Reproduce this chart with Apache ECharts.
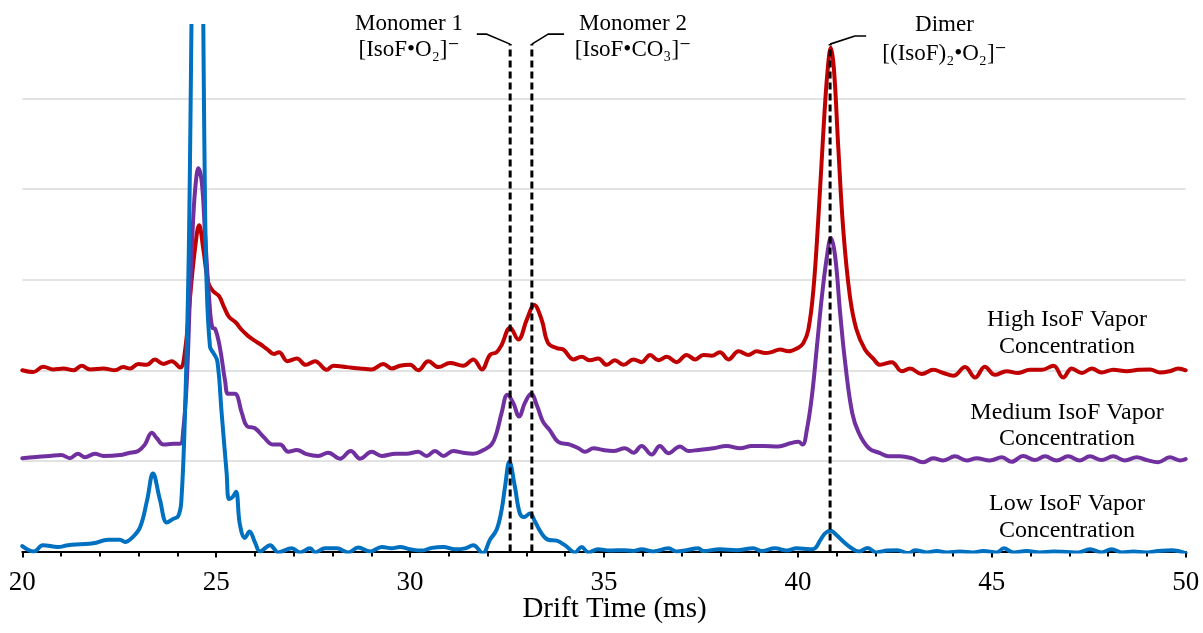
<!DOCTYPE html>
<html>
<head>
<meta charset="utf-8">
<script src="https://cdn.jsdelivr.net/npm/echarts@6/dist/echarts.min.js"></script>
<style>
  html, body { margin: 0; padding: 0; background: #fff; }
  #chart { width: 1203px; height: 633px; }
</style>
</head>
<body>
<div id="chart"></div>
<script>
// Ion mobility spectra of IsoF at three vapor concentrations.
// Each trace: [drift time (ms), signal relative to its own baseline]; traces are stacked by traceOffsets.
const highIsoF = [
  [20.0, 0.0], [20.28, -0.02], [20.54, 0.04], [20.80, 0.01], [21.06, 0.02], [21.32, 0.0], [21.53, 0.05],
  [21.75, 0.01], [22.09, 0.02], [22.39, 0.0], [22.60, 0.035], [22.78, 0.02], [22.99, 0.07], [23.21, 0.06],
  [23.42, 0.12], [23.64, 0.07], [23.85, 0.10], [24.07, 0.03], [24.20, 0.23], [24.32, 0.78], [24.45, 1.33],
  [24.56, 1.60], [24.67, 1.33], [24.80, 0.96], [24.93, 0.87], [25.07, 0.82], [25.20, 0.70], [25.33, 0.59],
  [25.50, 0.53], [25.65, 0.45], [25.82, 0.38], [25.98, 0.33], [26.13, 0.29], [26.32, 0.23], [26.49, 0.18],
  [26.62, 0.20], [26.84, 0.10], [27.08, 0.13], [27.31, 0.06], [27.55, 0.10], [27.85, 0.005], [28.02, 0.05],
  [28.37, 0.035], [28.71, 0.02], [29.01, 0.01], [29.31, 0.07], [29.53, 0.02], [29.74, 0.05], [30.0, 0.06],
  [30.21, 0.0], [30.47, 0.10], [30.73, 0.035], [31.03, 0.08], [31.37, 0.05], [31.63, 0.12], [31.85, 0.01],
  [32.06, 0.17], [32.23, 0.20], [32.36, 0.28], [32.58, 0.47], [32.79, 0.34], [33.01, 0.56], [33.20, 0.72],
  [33.39, 0.56], [33.56, 0.30], [33.78, 0.245], [33.95, 0.23], [34.21, 0.12], [34.42, 0.15], [34.64, 0.11],
  [34.85, 0.13], [35.07, 0.06], [35.28, 0.11], [35.50, 0.06], [35.76, 0.12], [35.97, 0.09], [36.19, 0.17],
  [36.40, 0.11], [36.62, 0.15], [36.87, 0.09], [37.13, 0.17], [37.35, 0.12], [37.56, 0.17], [37.78, 0.16],
  [37.99, 0.20], [38.21, 0.12], [38.47, 0.21], [38.72, 0.17], [38.94, 0.21], [39.15, 0.19], [39.32, 0.20],
  [39.54, 0.23], [39.75, 0.21], [40.01, 0.25], [40.14, 0.30], [40.27, 0.45], [40.40, 0.89], [40.53, 1.70],
  [40.66, 2.66], [40.76, 3.28], [40.85, 3.56], [40.93, 3.32], [41.04, 2.47], [41.17, 1.55], [41.34, 0.82],
  [41.51, 0.45], [41.73, 0.23], [41.94, 0.13], [42.12, 0.06], [42.42, 0.09], [42.68, -0.01], [42.89, 0.02],
  [43.19, -0.04], [43.49, 0.005], [43.75, -0.03], [44.01, -0.06], [44.31, 0.035], [44.57, -0.08], [44.82, 0.04],
  [45.08, -0.05], [45.38, -0.01], [45.68, -0.03], [45.98, 0.005], [46.29, 0.005], [46.59, 0.05], [46.84, -0.08],
  [47.06, 0.02], [47.32, -0.03], [47.58, 0.02], [47.83, -0.025], [48.13, 0.005], [48.48, -0.01], [48.78, 0.005],
  [49.08, 0.01], [49.34, -0.025], [49.59, -0.01], [49.81, 0.02], [50.0, 0.0]
];

const mediumIsoF = [
  [20.0, 0.03], [20.28, 0.04], [20.71, 0.055], [21.0, 0.065], [21.23, 0.03], [21.43, 0.08], [21.62, 0.04],
  [21.87, 0.08], [22.09, 0.055], [22.52, 0.065], [22.73, 0.085], [22.99, 0.11], [23.16, 0.18], [23.34, 0.31],
  [23.47, 0.25], [23.64, 0.18], [23.89, 0.19], [24.07, 0.19], [24.15, 0.34], [24.24, 0.86], [24.32, 1.78],
  [24.41, 2.70], [24.48, 3.10], [24.54, 3.23], [24.63, 3.07], [24.71, 2.52], [24.82, 1.78], [24.90, 1.47],
  [24.97, 1.46], [25.10, 1.24], [25.23, 0.88], [25.31, 0.74], [25.48, 0.74], [25.66, 0.53], [25.79, 0.385],
  [26.0, 0.36], [26.21, 0.27], [26.47, 0.18], [26.65, 0.18], [26.86, 0.10], [27.08, 0.12], [27.33, 0.075],
  [27.63, 0.055], [27.89, 0.09], [28.19, 0.025], [28.47, 0.11], [28.71, 0.025], [29.01, 0.10], [29.27, 0.055],
  [29.63, 0.08], [29.91, 0.08], [30.21, 0.10], [30.43, 0.055], [30.64, 0.11], [30.86, 0.055], [31.11, 0.11],
  [31.37, 0.09], [31.63, 0.08], [31.89, 0.12], [32.10, 0.18], [32.23, 0.31], [32.36, 0.53], [32.51, 0.73],
  [32.66, 0.64], [32.81, 0.49], [32.96, 0.64], [33.12, 0.74], [33.28, 0.60], [33.43, 0.43], [33.60, 0.34],
  [33.82, 0.21], [34.12, 0.18], [34.34, 0.14], [34.51, 0.10], [34.73, 0.14], [34.98, 0.12], [35.24, 0.11],
  [35.54, 0.14], [35.76, 0.09], [35.97, 0.165], [36.23, 0.07], [36.44, 0.165], [36.66, 0.085], [36.96, 0.16],
  [37.17, 0.11], [37.43, 0.12], [37.82, 0.14], [38.16, 0.165], [38.51, 0.14], [38.81, 0.165], [39.11, 0.165],
  [39.50, 0.16], [39.80, 0.195], [40.01, 0.21], [40.12, 0.18], [40.23, 0.34], [40.36, 0.71], [40.49, 1.26],
  [40.62, 1.82], [40.75, 2.26], [40.85, 2.46], [40.96, 2.26], [41.09, 1.63], [41.22, 1.08], [41.40, 0.53],
  [41.57, 0.31], [41.83, 0.14], [42.12, 0.085], [42.33, 0.05], [42.63, 0.05], [42.93, 0.03], [43.23, -0.015],
  [43.49, 0.03], [43.75, 0.005], [44.05, 0.05], [44.35, 0.005], [44.61, 0.03], [44.95, 0.005], [45.26, 0.04],
  [45.51, -0.01], [45.81, 0.055], [46.11, 0.01], [46.37, 0.05], [46.67, 0.005], [46.97, 0.05], [47.27, 0.005],
  [47.53, 0.05], [47.83, 0.01], [48.13, 0.05], [48.43, 0.005], [48.74, 0.04], [48.99, 0.01], [49.29, -0.015],
  [49.59, 0.04], [49.85, 0.005], [50.0, 0.02]
];

const lowIsoF = [
  [20.0, 0.06], [20.30, 0.0], [20.53, 0.07], [20.92, 0.05], [21.18, 0.07], [21.49, 0.08], [21.83, 0.09],
  [22.21, 0.13], [22.52, 0.13], [22.65, 0.105], [22.85, 0.16], [23.04, 0.27], [23.22, 0.57], [23.37, 0.86],
  [23.55, 0.57], [23.73, 0.32], [23.89, 0.36], [24.02, 0.39], [24.10, 0.55], [24.20, 1.6], [24.30, 3.5],
  [24.53, 11.5], [24.70, 4.3], [24.75, 3.0], [24.84, 2.26], [24.93, 2.19], [25.03, 2.1], [25.14, 1.53],
  [25.27, 0.86], [25.33, 0.58], [25.42, 0.60], [25.51, 0.66], [25.61, 0.30], [25.74, 0.15], [25.86, 0.22],
  [26.0, 0.10], [26.13, 0.0], [26.39, 0.07], [26.60, -0.01], [26.95, 0.035], [27.16, -0.01], [27.42, 0.035],
  [27.55, -0.01], [27.81, 0.035], [28.11, 0.035], [28.41, -0.01], [28.66, 0.045], [28.97, 0.0], [29.27, 0.05],
  [29.53, 0.035], [29.74, 0.05], [30.0, 0.025], [30.30, 0.01], [30.56, 0.04], [30.86, 0.05], [31.16, 0.025],
  [31.42, 0.035], [31.63, 0.07], [31.87, -0.02], [32.06, 0.13], [32.23, 0.24], [32.36, 0.46], [32.45, 0.72],
  [32.56, 0.99], [32.70, 0.72], [32.83, 0.42], [32.94, 0.38], [33.09, 0.42], [33.22, 0.33], [33.39, 0.20],
  [33.56, 0.13], [33.78, 0.12], [33.99, 0.07], [34.25, -0.01], [34.42, 0.05], [34.60, -0.01], [34.85, 0.025],
  [35.15, 0.01], [35.50, 0.015], [35.76, 0.005], [35.97, 0.025], [36.27, 0.0], [36.66, 0.035], [36.87, 0.0],
  [37.13, 0.015], [37.43, 0.035], [37.56, 0.005], [37.99, 0.025], [38.42, 0.015], [38.85, 0.035], [39.07, 0.005],
  [39.41, 0.035], [39.71, 0.01], [39.97, 0.035], [40.31, 0.025], [40.44, 0.035], [40.57, 0.12], [40.70, 0.20],
  [40.84, 0.23], [41.0, 0.18], [41.17, 0.11], [41.34, 0.05], [41.58, 0.0], [41.80, 0.04], [42.02, -0.01],
  [42.30, 0.01], [42.56, 0.015], [42.85, -0.02], [43.02, 0.015], [43.32, -0.01], [43.58, 0.005], [43.84, -0.01],
  [44.18, 0.0], [44.52, -0.01], [44.78, 0.005], [45.13, -0.01], [45.31, 0.035], [45.56, -0.01], [45.90, 0.005],
  [46.24, -0.01], [46.59, 0.0], [46.93, -0.005], [47.23, -0.01], [47.53, 0.025], [47.83, -0.01], [48.09, 0.025],
  [48.35, -0.01], [48.65, 0.0], [48.99, -0.01], [49.29, 0.005], [49.64, 0.015], [49.85, 0.0], [50.0, -0.02]
];

const traceNames = ['High IsoF Vapor\nConcentration', 'Medium IsoF Vapor\nConcentration', 'Low IsoF Vapor\nConcentration'];
const traceOffsets = [2, 1, 0];

// Assigned ion peaks (drift time, ms) and their labels
const peakTimes = [32.58, 33.14, 40.83];
const peakNames = ['Monomer 1\n[IsoF•O₂]⁻', 'Monomer 2\n[IsoF•CO₃]⁻', 'Dimer\n[(IsoF)₂•O₂]⁻'];
const peakMarkTop = 5.6;

// ---- styling / layout ----
const SERIF = "'Liberation Serif', 'Times New Roman', 'DejaVu Serif', serif";
const traceColors = ['#C00000', '#7030A0', '#0070C0'];
const traceLabelPos = [[1067, 333.5, 26.7], [1067, 426, 26.3], [1067, 517, 26.6]];
// elbow leaders from the dashed marker top to each label: [dx elbow, dx end, dy] in axis units
const leaderShape = [[-0.60, -0.86, 0.11], [0.42, 0.83, 0.11], [0.64, 0.93, 0.09]];
const peakLabelPos = [[409, 36.7, 25.6], [633, 36.7, 25.6], [944.5, 39.2, 29]];

const chart = echarts.init(document.getElementById('chart'), null, { renderer: 'canvas' });

const series = [];
[highIsoF, mediumIsoF, lowIsoF].forEach((pts, i) => {
  series.push({
    name: traceNames[i],
    type: 'line',
    data: pts.map(([t, v]) => [t, v + traceOffsets[i]]),
    symbol: 'none',
    smooth: 0.4,
    silent: true,
    z: 2 + i,
    lineStyle: { color: traceColors[i], width: 4, join: 'round', cap: 'round' },
    itemStyle: { color: traceColors[i] }
  });
});

peakTimes.forEach((t, i) => {
  // dashed marker line at the peak position
  series.push({
    type: 'line',
    data: [[t, 0], [t, peakMarkTop]],
    symbol: 'none',
    silent: true,
    z: 10,
    clip: false,
    lineStyle: { color: '#000', width: 3, type: [7, 4], cap: 'butt' }
  });
  const [e1, e2, dy] = leaderShape[i];
  series.push({
    type: 'line',
    data: [[t, peakMarkTop], [t + e1, peakMarkTop + dy], [t + e2, peakMarkTop + dy]],
    symbol: 'none',
    silent: true,
    z: 10,
    clip: false,
    lineStyle: { color: '#000', width: 1.6 }
  });
});

const graphic = [];
traceNames.forEach((name, i) => {
  const [x, y, lh] = traceLabelPos[i];
  graphic.push({
    type: 'text', x, y, silent: true,
    style: { text: name, font: '24px ' + SERIF, fill: '#000', align: 'center', verticalAlign: 'middle', lineHeight: lh }
  });
});
peakNames.forEach((name, i) => {
  const [x, y, lh] = peakLabelPos[i];
  graphic.push({
    type: 'text', x, y, silent: true,
    style: { text: name, font: '23px ' + SERIF, fill: '#000', align: 'center', verticalAlign: 'middle', lineHeight: lh }
  });
});
graphic.push({
  type: 'text', x: 614.5, y: 609.5, silent: true,
  style: { text: 'Drift Time (ms)', font: '29px ' + SERIF, fill: '#000', align: 'center', verticalAlign: 'middle', lineHeight: 29 }
});

chart.setOption({
  animation: false,
  backgroundColor: '#fff',
  grid: { left: 22.3, right: 17.3, top: 26, bottom: 81.5, containLabel: false },
  xAxis: {
    type: 'value',
    min: 20, max: 50, interval: 5,
    axisLine: { show: true, onZero: false, lineStyle: { color: '#000', width: 2 } },
    axisTick: { show: true, inside: false, length: 6, lineStyle: { color: '#000', width: 2 } },
    minorTick: { show: true, splitNumber: 5, length: 5, lineStyle: { color: '#000', width: 2 } },
    splitLine: { show: false },
    axisLabel: { color: '#000', fontFamily: SERIF, fontSize: 27, lineHeight: 27, margin: 18 }
  },
  yAxis: {
    type: 'value',
    min: 0, max: 5.8, interval: 1,
    axisLine: { show: false },
    axisTick: { show: false },
    axisLabel: { show: false },
    splitLine: { show: true, showMinLine: false, showMaxLine: false, lineStyle: { color: '#D9D9D9', width: 1.5 } }
  },
  series,
  graphic
});
</script>
</body>
</html>
